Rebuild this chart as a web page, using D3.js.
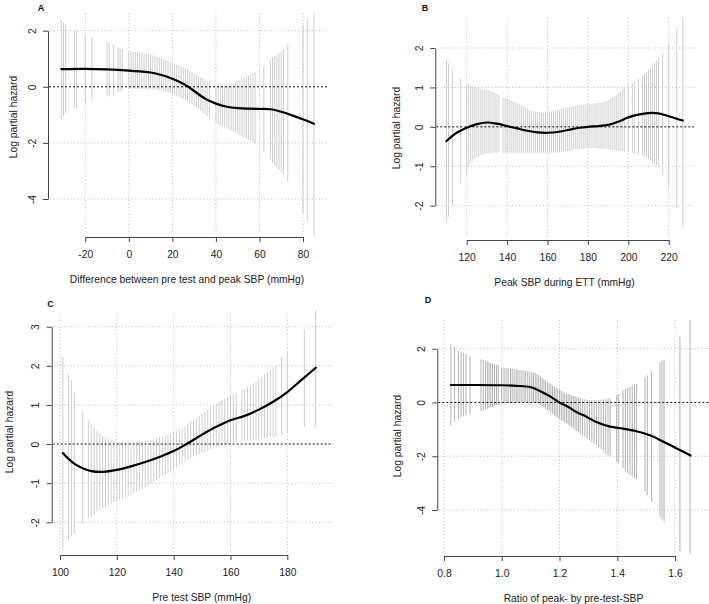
<!DOCTYPE html>
<html>
<head>
<meta charset="utf-8">
<script src="https://cdn.jsdelivr.net/npm/d3@7"></script>
<style>
  html, body { margin: 0; padding: 0; background: #fff; }
  svg { display: block; font-family: "Liberation Sans", Arial, Helvetica, sans-serif; }
</style>
</head>
<body>
<svg id="chart" width="709" height="604"></svg>
<script>
// ---------- DATA ----------
// Confidence bars: [x, lower, upper]
const barsA = [
  [-31,-1.15,2.39],[-30,-1.04,2.30],[-29,-0.94,2.23],[-25,-0.74,2.01],[-24,-0.77,2.00],
  [-20,-0.58,1.82],[-17,-0.50,1.77],[-10,-0.35,1.60],[-9,-0.30,1.56],[-7,-0.23,1.49],
  [-5,-0.19,1.41],[-4,-0.17,1.37],[-3,-0.14,1.33],
  [0,-0.07,1.26],[1,-0.07,1.25],[2,-0.07,1.24],[3,-0.07,1.23],[4,-0.07,1.22],[5,-0.07,1.21],
  [6,-0.07,1.20],[7,-0.08,1.19],[8,-0.08,1.18],[9,-0.08,1.16],[10,-0.08,1.14],[11,-0.09,1.12],
  [12,-0.10,1.09],[13,-0.11,1.06],[14,-0.12,1.04],[15,-0.13,1.01],[16,-0.15,0.98],[17,-0.17,0.95],
  [18,-0.19,0.92],[19,-0.22,0.88],[20,-0.25,0.85],[21,-0.28,0.82],[22,-0.32,0.78],[23,-0.36,0.75],
  [24,-0.40,0.72],[25,-0.44,0.68],[26,-0.48,0.64],[27,-0.53,0.60],[28,-0.58,0.56],[29,-0.63,0.52],
  [30,-0.68,0.47],[31,-0.74,0.43],[32,-0.80,0.38],[33,-0.86,0.34],[34,-0.92,0.30],[35,-0.98,0.26],
  [36,-1.05,0.22],[37,-1.12,0.18],
  [40,-1.30,0.04],[41,-1.34,0.04],[42,-1.38,0.05],[43,-1.41,0.06],[44,-1.45,0.07],[45,-1.48,0.08],
  [46,-1.52,0.10],[47,-1.56,0.12],[48,-1.60,0.14],[49,-1.65,0.17],[50,-1.70,0.20],[51,-1.74,0.24],
  [52,-1.78,0.28],[53,-1.82,0.33],[54,-1.85,0.37],[55,-1.89,0.41],[56,-1.93,0.44],[57,-1.97,0.48],
  [58,-2.01,0.51],[62,-2.31,0.73],[65,-2.60,0.99],[66,-2.70,1.05],[67,-2.80,1.10],[68,-2.88,1.15],
  [69,-2.95,1.20],[70,-3.02,1.26],[71,-3.12,1.33],[73,-3.38,1.50],[80,-4.51,2.21],[82,-4.81,2.39],
  [85,-5.35,2.65]
];
const curveA = [
  [-31,0.63],[-20,0.64],[-10,0.62],[0,0.58],[5,0.55],[10,0.51],[15,0.42],[20,0.29],[25,0.11],
  [27.5,-0.01],[30,-0.15],[35,-0.42],[40,-0.60],[45,-0.71],[50,-0.76],[55,-0.78],[60,-0.79],
  [65,-0.80],[70,-0.89],[75,-1.02],[80,-1.16],[85,-1.32]
];
const xTicksA = [-20, 0, 20, 40, 60, 80];
const yTicksA = [-4, -2, 0, 2];

const barsB = [
  [110,-2.41,1.69],[111,-2.28,1.61],[113,-2.00,1.44],[117,-1.44,1.23],
  [120,-1.20,1.10],[121,-1.00,1.08],[122,-0.92,1.06],[123,-0.86,1.04],[124,-0.81,1.02],[125,-0.78,1.00],
  [126,-0.75,0.99],[127,-0.72,0.97],[128,-0.70,0.96],[129,-0.69,0.95],[130,-0.68,0.94],[131,-0.67,0.93],
  [132,-0.66,0.91],[133,-0.66,0.89],[134,-0.65,0.86],[135,-0.65,0.83],[136,-0.65,0.80],
  [138,-0.66,0.75],[139,-0.66,0.73],[140,-0.66,0.71],[141,-0.66,0.69],[142,-0.66,0.67],[143,-0.66,0.64],
  [144,-0.66,0.62],[145,-0.66,0.60],[146,-0.66,0.57],[147,-0.66,0.54],[148,-0.66,0.51],[149,-0.66,0.48],
  [150,-0.66,0.45],[151,-0.66,0.43],[152,-0.66,0.41],[153,-0.66,0.40],[154,-0.66,0.39],[155,-0.66,0.38],
  [156,-0.66,0.37],[157,-0.66,0.37],[158,-0.66,0.36],[159,-0.66,0.36],[160,-0.66,0.37],[161,-0.66,0.38],
  [162,-0.66,0.39],[163,-0.66,0.40],[164,-0.65,0.41],[165,-0.65,0.43],[166,-0.64,0.44],[167,-0.64,0.46],
  [168,-0.63,0.47],[169,-0.62,0.48],[170,-0.61,0.49],[171,-0.60,0.50],[172,-0.59,0.51],[173,-0.58,0.52],
  [174,-0.57,0.53],[175,-0.57,0.54],[176,-0.56,0.55],[177,-0.56,0.56],[178,-0.55,0.57],[179,-0.55,0.57],
  [180,-0.54,0.58],[181,-0.54,0.58],[182,-0.54,0.59],[183,-0.54,0.59],[184,-0.54,0.60],[185,-0.55,0.60],
  [186,-0.55,0.61],[187,-0.56,0.62],[188,-0.56,0.63],[189,-0.57,0.65],[190,-0.57,0.67],[191,-0.58,0.70],
  [192,-0.58,0.73],[193,-0.59,0.77],[194,-0.59,0.81],[195,-0.60,0.85],[196,-0.61,0.90],[197,-0.62,0.94],
  [198,-0.63,0.99],
  [200,-0.64,1.06],[202,-0.66,1.12],[203,-0.67,1.16],[205,-0.69,1.22],[207,-0.73,1.30],[208,-0.75,1.35],
  [209,-0.78,1.40],[210,-0.81,1.45],[211,-0.85,1.50],[212,-0.89,1.56],[213,-0.93,1.62],[214,-0.97,1.68],
  [215,-1.02,1.75],[217,-1.23,1.87],[220,-1.52,2.10],[224,-2.07,2.51],[227,-2.54,2.79]
];
const curveB = [
  [110,-0.36],[115,-0.15],[120,-0.02],[125,0.07],[130,0.11],[135,0.08],[140,0.02],[145,-0.04],
  [150,-0.10],[155,-0.14],[160,-0.15],[165,-0.13],[170,-0.08],[175,-0.03],[180,0.00],[185,0.02],
  [190,0.05],[195,0.13],[200,0.24],[205,0.31],[210,0.35],[215,0.34],[220,0.27],[227,0.16]
];
const xTicksB = [120, 140, 160, 180, 200, 220];
const yTicksB = [-2, -1, 0, 1, 2];

const barsC = [
  [101,-2.70,2.23],[103,-2.45,1.78],[104,-2.36,1.63],[105,-2.30,1.33],[108,-2.02,0.84],
  [110,-1.90,0.61],[111,-1.85,0.50],[112,-1.79,0.42],[113,-1.73,0.34],[114,-1.69,0.27],[115,-1.64,0.21],
  [116,-1.60,0.16],[117,-1.56,0.13],[118,-1.52,0.10],[119,-1.49,0.08],[120,-1.45,0.07],[121,-1.42,0.06],
  [122,-1.38,0.06],[123,-1.35,0.06],[124,-1.31,0.06],[125,-1.28,0.06],[126,-1.24,0.06],[127,-1.21,0.06],
  [128,-1.17,0.07],[129,-1.14,0.07],[130,-1.10,0.08],[131,-1.06,0.10],[132,-1.01,0.11],[133,-0.97,0.13],
  [134,-0.92,0.14],[135,-0.88,0.16],[136,-0.83,0.18],[137,-0.79,0.20],[138,-0.74,0.23],[139,-0.69,0.26],
  [140,-0.64,0.30],[141,-0.59,0.33],[142,-0.54,0.37],[143,-0.50,0.41],[144,-0.45,0.46],[145,-0.40,0.52],
  [146,-0.36,0.57],[147,-0.32,0.62],[148,-0.29,0.67],[149,-0.26,0.72],[150,-0.23,0.78],[151,-0.20,0.83],
  [152,-0.17,0.88],[153,-0.14,0.93],[154,-0.11,0.98],[155,-0.08,1.03],[156,-0.05,1.08],[157,-0.03,1.12],
  [158,-0.01,1.16],[159,0.00,1.20],[160,0.02,1.24],[161,0.03,1.27],[162,0.05,1.30],
  [164,0.07,1.38],[165,0.08,1.42],[166,0.09,1.46],[167,0.10,1.50],[168,0.10,1.55],[169,0.11,1.60],
  [170,0.12,1.66],[171,0.13,1.72],[172,0.15,1.78],[173,0.16,1.84],[174,0.18,1.90],[175,0.19,1.96],
  [176,0.20,2.02],[178,0.23,2.20],[180,0.27,2.36],[186,0.44,2.93],[190,0.40,3.42]
];
const curveC = [
  [101,-0.23],[103,-0.38],[105,-0.50],[108,-0.62],[111,-0.69],[115,-0.71],[120,-0.66],[125,-0.57],
  [130,-0.46],[135,-0.33],[140,-0.18],[145,0.02],[150,0.24],[155,0.44],[160,0.61],[165,0.72],
  [170,0.88],[175,1.08],[180,1.33],[185,1.64],[190,1.95]
];
const xTicksC = [100, 120, 140, 160, 180];
const yTicksC = [-2, -1, 0, 1, 2, 3];

const barsD = [
  [0.824,-0.87,2.16],[0.836,-0.72,2.07],[0.850,-0.61,1.92],[0.859,-0.55,1.88],[0.867,-0.51,1.85],
  [0.876,-0.49,1.80],[0.890,-0.46,1.73],[0.928,-0.32,1.61],[0.936,-0.30,1.58],[0.944,-0.26,1.54],
  [0.950,-0.23,1.52],[0.956,-0.20,1.49],[0.962,-0.18,1.47],[0.968,-0.16,1.45],[0.975,-0.13,1.42],
  [0.982,-0.11,1.40],[0.988,-0.10,1.39],
  [1.000,-0.04,1.30],[1.008,-0.03,1.29],[1.015,-0.03,1.28],[1.022,-0.02,1.27],[1.030,-0.02,1.26],
  [1.036,-0.02,1.25],[1.043,-0.01,1.24],[1.050,-0.01,1.23],[1.056,-0.01,1.22],[1.063,-0.01,1.21],
  [1.070,0.00,1.20],[1.077,0.00,1.19],[1.083,0.00,1.17],[1.090,0.00,1.16],[1.097,0.00,1.15],
  [1.104,0.00,1.13],[1.110,-0.01,1.11],[1.116,-0.02,1.09],[1.122,-0.04,1.06],[1.128,-0.07,1.02],
  [1.134,-0.10,0.97],[1.140,-0.14,0.92],[1.146,-0.19,0.87],[1.152,-0.24,0.82],[1.158,-0.29,0.77],
  [1.164,-0.33,0.72],[1.170,-0.37,0.68],[1.176,-0.42,0.63],[1.182,-0.47,0.59],[1.188,-0.52,0.55],
  [1.194,-0.57,0.51],[1.200,-0.61,0.47],[1.206,-0.66,0.43],[1.212,-0.70,0.40],[1.218,-0.74,0.36],
  [1.224,-0.78,0.33],[1.230,-0.83,0.31],[1.236,-0.87,0.29],[1.242,-0.92,0.26],[1.248,-0.97,0.24],
  [1.254,-1.02,0.22],[1.260,-1.07,0.20],[1.266,-1.11,0.18],[1.272,-1.15,0.16],[1.280,-1.20,0.14],
  [1.288,-1.27,0.12],[1.296,-1.34,0.10],[1.304,-1.41,0.09],[1.312,-1.47,0.08],[1.320,-1.53,0.08],
  [1.328,-1.59,0.08],[1.336,-1.66,0.09],[1.344,-1.74,0.10],[1.352,-1.82,0.11],[1.360,-1.90,0.12],
  [1.368,-1.97,0.14],[1.375,-2.02,0.15],[1.398,-2.21,0.27],[1.405,-2.27,0.31],[1.420,-2.45,0.46],
  [1.428,-2.55,0.51],[1.436,-2.63,0.55],[1.444,-2.70,0.59],[1.452,-2.76,0.63],[1.460,-2.82,0.66],
  [1.467,-2.87,0.69],[1.496,-3.32,0.95],[1.504,-3.45,1.01],[1.519,-3.70,1.16],[1.548,-4.25,1.51],
  [1.555,-4.35,1.56],[1.562,-4.44,1.60],[1.617,-5.55,2.44],[1.652,-5.61,3.06]
];
const curveD = [
  [0.824,0.65],[0.9,0.65],[1.0,0.64],[1.05,0.62],[1.1,0.57],[1.132,0.43],[1.17,0.21],[1.2,0.00],
  [1.236,-0.20],[1.254,-0.33],[1.282,-0.47],[1.33,-0.74],[1.375,-0.90],[1.42,-0.97],[1.467,-1.07],
  [1.513,-1.22],[1.56,-1.46],[1.606,-1.71],[1.654,-1.97]
];
const xTicksD = [0.8, 1.0, 1.2, 1.4, 1.6];
const yTicksD = [-4, -2, 0, 2];

const panelLabels = ["A", "B", "C", "D"];
const xTitles = [
  "Difference between pre test and peak SBP (mmHg)",
  "Peak SBP during ETT (mmHg)",
  "Pre test SBP (mmHg)",
  "Ratio of peak- by pre-test-SBP"
];
const yTitle = "Log partial hazard";

// ---------- LAYOUT (pixel geometry of each panel) ----------
const intFmt = d => String(d);
const layouts = [
  { left: 48,    right: 327, top: 13,  bottom: 237, xr: [85.3, 303],    yr: [199, 30.7],    lab: [41, 10.5],  xtc: 187,   ytc: [13, 117],    barColor: "#cfcfcf", xFmt: intFmt },
  { left: 435.3, right: 694, top: 18,  bottom: 240, xr: [466.7, 668.7], yr: [205.7, 48],    lab: [425, 10.5], xtc: 564.5, ytc: [396, 128],   barColor: "#cfcfcf", xFmt: intFmt },
  { left: 51.7,  right: 333, top: 313, bottom: 555, xr: [60, 287.3],    yr: [522.3, 326.7], lab: [50.5, 307], xtc: 201.7, ytc: [9, 432],     barColor: "#cfcfcf", xFmt: intFmt },
  { left: 437.3, right: 709, top: 320, bottom: 556, xr: [444, 675],     yr: [510, 348.7],   lab: [428, 302.5], xtc: 573.5, ytc: [397.5, 436], barColor: "#b3b3b3", xFmt: d => d.toFixed(1) }
];

const panelData = [
  { bars: barsA, curve: curveA, xTicks: xTicksA, yTicks: yTicksA },
  { bars: barsB, curve: curveB, xTicks: xTicksB, yTicks: yTicksB },
  { bars: barsC, curve: curveC, xTicks: xTicksC, yTicks: yTicksC },
  { bars: barsD, curve: curveD, xTicks: xTicksD, yTicks: yTicksD }
];

const svg = d3.select("#chart");
const textColor = "#222";
const axisColor = "#444";
const fs = 10.3;

panelData.forEach((pd, i) => {
  const L = layouts[i];
  const g = svg.append("g");
  const xs = d3.scaleLinear().domain(d3.extent(pd.xTicks)).range(L.xr);
  const ys = d3.scaleLinear().domain(d3.extent(pd.yTicks)).range(L.yr);

  // grid
  g.append("g").selectAll("line").data(pd.yTicks.filter(t => t !== 0)).join("line")
    .attr("x1", L.left + 2).attr("x2", L.right)
    .attr("y1", d => ys(d)).attr("y2", d => ys(d))
    .attr("stroke", "#c4c4c4").attr("stroke-width", 1).attr("stroke-dasharray", "1.2,2.2");
  g.append("g").selectAll("line").data(pd.xTicks).join("line")
    .attr("x1", d => xs(d)).attr("x2", d => xs(d))
    .attr("y1", L.top).attr("y2", L.bottom - 3)
    .attr("stroke", "#c4c4c4").attr("stroke-width", 1).attr("stroke-dasharray", "1.2,2.2");

  // confidence bars
  g.append("g").selectAll("line").data(pd.bars).join("line")
    .attr("x1", d => xs(d[0])).attr("x2", d => xs(d[0]))
    .attr("y1", d => ys(d[1])).attr("y2", d => ys(d[2]))
    .attr("stroke", L.barColor).attr("stroke-width", 1);

  // zero reference line
  g.append("line")
    .attr("x1", L.left + 1).attr("x2", L.right)
    .attr("y1", ys(0)).attr("y2", ys(0))
    .attr("stroke", "#111").attr("stroke-width", 1).attr("stroke-dasharray", "2,2");

  // curve
  g.append("path").datum(pd.curve)
    .attr("d", d3.line().x(d => xs(d[0])).y(d => ys(d[1])).curve(d3.curveCatmullRom.alpha(0.5)))
    .attr("fill", "none").attr("stroke", "#000").attr("stroke-width", 2.2)
    .attr("stroke-linejoin", "round").attr("stroke-linecap", "round");

  // y axis
  const ya = g.append("g").attr("transform", `translate(${L.left},0)`)
    .call(d3.axisLeft(ys).tickValues(pd.yTicks).tickSizeInner(5).tickSizeOuter(0).tickFormat(intFmt));
  ya.select(".domain").attr("stroke", axisColor);
  ya.selectAll(".tick line").attr("stroke", axisColor);
  ya.selectAll(".tick text")
    .attr("x", null).attr("dy", null)
    .attr("transform", "translate(-16,0) rotate(-90)")
    .attr("text-anchor", "middle").attr("dominant-baseline", "central")
    .attr("font-size", fs).attr("fill", textColor);

  // x axis
  const xa = g.append("g").attr("transform", `translate(0,${L.bottom})`)
    .call(d3.axisBottom(xs).tickValues(pd.xTicks).tickSizeInner(5).tickSizeOuter(0).tickFormat(L.xFmt));
  xa.select(".domain").attr("stroke", axisColor);
  xa.selectAll(".tick line").attr("stroke", axisColor);
  xa.selectAll(".tick text")
    .attr("y", 14).attr("font-size", fs).attr("fill", textColor);

  // titles
  g.append("text").attr("x", L.xtc).attr("y", L.bottom + 46)
    .attr("text-anchor", "middle").attr("font-size", fs).attr("fill", textColor)
    .text(xTitles[i]);
  g.append("text")
    .attr("transform", `translate(${L.ytc[0]},${L.ytc[1]}) rotate(-90)`)
    .attr("text-anchor", "middle").attr("dominant-baseline", "central")
    .attr("font-size", fs).attr("fill", textColor)
    .text(yTitle);
  g.append("text").attr("x", L.lab[0]).attr("y", L.lab[1])
    .attr("text-anchor", "middle").attr("font-size", 9).attr("font-weight", "bold")
    .attr("fill", "#111").text(panelLabels[i]);
});
</script>
</body>
</html>
